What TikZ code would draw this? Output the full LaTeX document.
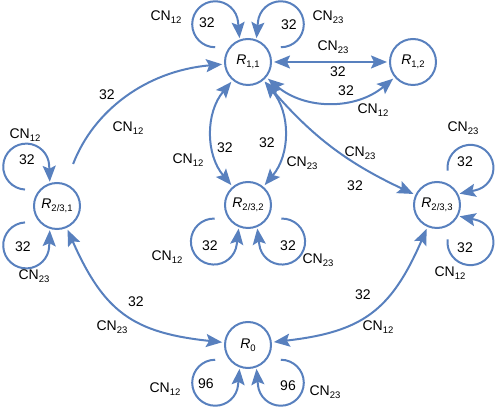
\documentclass[tikz,border=0pt]{standalone}
\usepackage{fontspec}
\setmainfont{Liberation Sans}
\usetikzlibrary{arrows.meta}
\definecolor{graphblue}{RGB}{88,128,190}
\newcommand{\CN}[1]{CN\raisebox{-2.5pt}{\fontsize{9.5}{10}\selectfont #1}}
\newcommand{\Rn}[1]{\textit{R}\raisebox{-2.5pt}{\fontsize{9.5}{10}\selectfont #1}}
\newcommand{\selfloop}[5]{%
  \draw[link,arr] ([shift={(#2:50)}]#1.center) ++(#3:23) arc[start angle=#3, end angle=#4, radius=23] -- ++(#5:16);}
\tikzset{
  rnode/.style={circle, draw=graphblue, line width=2pt, minimum size=46pt, inner sep=0pt, outer sep=3pt},
  link/.style={draw=graphblue, line width=2pt},
  arr/.style={-{Stealth[length=16pt,width=13pt,inset=3pt]}},
  darr/.style={{Stealth[length=16pt,width=13pt,inset=3pt]}-{Stealth[length=16pt,width=13pt,inset=3pt]}},
  lbl/.style={inner sep=0pt}
}
\begin{document}
\begin{tikzpicture}[x=1pt,y=1pt,font=\fontsize{14}{16}\selectfont]
  \useasboundingbox (0,0) rectangle (496,407);
  \node[rnode] (R11) at (248,345) {\Rn{1,1}};
  \node[rnode] (R12) at (413,345) {\Rn{1,2}};
  \node[rnode] (R231) at (57,201) {\Rn{2/3,1}};
  \node[rnode] (R232) at (248,202) {\Rn{2/3,2}};
  \node[rnode] (R233) at (437,202) {\Rn{2/3,3}};
  \node[rnode] (R0) at (248,62) {\Rn{0}};

  \draw[link,arr,shorten <=19pt] (R231) to[bend left=32] (R11);
  \draw[link,darr] (R11) -- (R12);
  \draw[link,darr] (R11) to[bend right=40] (R12);
  \draw[link,darr] (R11) to[bend right=40] (R232);
  \draw[link,darr] (R11) to[bend left=40] (R232);
  \draw[link,darr] (R11) to[bend right=12] (R233);
  \draw[link,darr] (R231) to[bend right=30,looseness=1.2] (R0);
  \draw[link,darr] (R233) to[bend left=30,looseness=1.2] (R0);

  \selfloop{R11}{131}{-90}{-355}{-85}
  \selfloop{R11}{49}{-90}{175}{-95}
  \selfloop{R231}{128}{-93}{-358}{-88}
  \selfloop{R231}{-128}{93}{358}{88}
  \selfloop{R232}{-133}{88}{353}{83}
  \selfloop{R232}{-47}{92}{-173}{97}
  \selfloop{R233}{48}{187}{-78}{-168}
  \selfloop{R233}{-48}{173}{438}{168}
  \selfloop{R0}{-131}{90}{355}{85}
  \selfloop{R0}{-49}{90}{-175}{95}

  % loop labels
  \node[lbl] (t11a) at (207,384) {32};
  \node[lbl] (t11b) at (289,382) {32};
  \node[lbl] (c11a) at (166,390) {\CN{12}};
  \node[lbl] (c11b) at (328,390) {\CN{23}};
  \node[lbl] (t231a) at (27,247) {32};
  \node[lbl] (t231b) at (23,160) {32};
  \node[lbl] (c231a) at (25,272) {\CN{12}};
  \node[lbl] (c231b) at (34,131) {\CN{23}};
  \node[lbl] (t232a) at (210,161) {32};
  \node[lbl] (t232b) at (288,161) {32};
  \node[lbl] (c232a) at (167,150) {\CN{12}};
  \node[lbl] (c232b) at (318,147) {\CN{23}};
  \node[lbl] (t233a) at (465,245) {32};
  \node[lbl] (t233b) at (465,159) {32};
  \node[lbl] (c233a) at (463,279) {\CN{23}};
  \node[lbl] (c233b) at (450,134) {\CN{12}};
  \node[lbl] (t0a) at (206,23) {96};
  \node[lbl] (t0b) at (288,21) {96};
  \node[lbl] (c0a) at (165,18) {\CN{12}};
  \node[lbl] (c0b) at (325,15) {\CN{23}};

  % edge labels
  \node[lbl] (w1) at (107,312) {32};
  \node[lbl] (n1) at (128,279) {\CN{12}};
  \node[lbl] (n2) at (333,360) {\CN{23}};
  \node[lbl] (w2) at (338,335) {32};
  \node[lbl] (w3) at (346,316) {32};
  \node[lbl] (n3) at (373,297) {\CN{12}};
  \node[lbl] (n4) at (188,247) {\CN{12}};
  \node[lbl] (w4) at (225,259) {32};
  \node[lbl] (w5) at (267,264) {32};
  \node[lbl] (n5) at (302,244) {\CN{23}};
  \node[lbl] (n6) at (360,254) {\CN{23}};
  \node[lbl] (w6) at (355,221) {32};
  \node[lbl] (w7) at (136,105) {32};
  \node[lbl] (n7) at (112,80) {\CN{23}};
  \node[lbl] (w8) at (363,112) {32};
  \node[lbl] (n8) at (378,80) {\CN{12}};
\end{tikzpicture}
\end{document}
